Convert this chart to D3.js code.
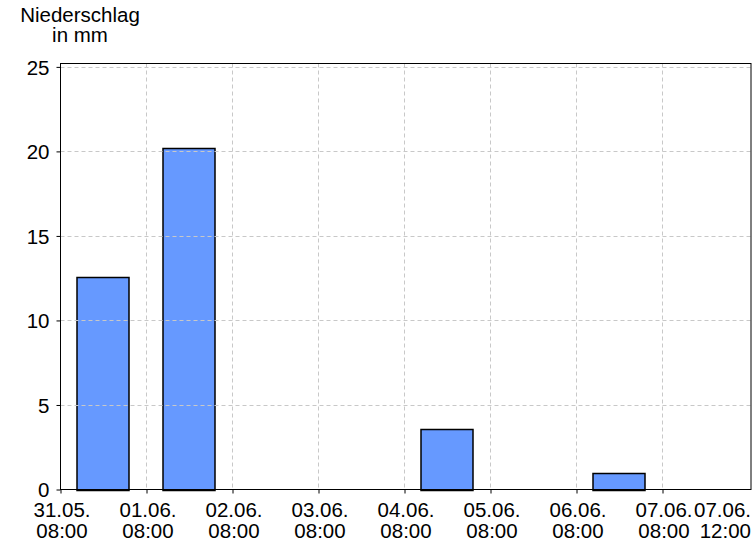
<!DOCTYPE html>
<html>
<head>
<meta charset="utf-8">
<script src="https://cdn.jsdelivr.net/npm/d3@7"></script>
<style>
  html, body { margin: 0; padding: 0; background: #fff; }
  svg { display: block; }
  text { font-family: "Liberation Sans", Arial, sans-serif; fill: #000; }
</style>
</head>
<body>
<svg id="chart" width="756" height="546"></svg>
<script>
// ---- data ----
const periodStarts = ["2024-05-31T08:00", "2024-06-01T08:00", "2024-06-02T08:00", "2024-06-03T08:00",
                      "2024-06-04T08:00", "2024-06-05T08:00", "2024-06-06T08:00"];
const precipitation = [12.6, 20.2, 0, 0, 3.6, 0, 1.0];
const tickTimes = ["2024-05-31T08:00", "2024-06-01T08:00", "2024-06-02T08:00", "2024-06-03T08:00",
                   "2024-06-04T08:00", "2024-06-05T08:00", "2024-06-06T08:00", "2024-06-07T08:00"];
const tickLabels = [["31.05.", "08:00"], ["01.06.", "08:00"], ["02.06.", "08:00"], ["03.06.", "08:00"],
                    ["04.06.", "08:00"], ["05.06.", "08:00"], ["06.06.", "08:00"], ["07.06.", "08:00"]];
const endLabel = ["07.06.", "12:00"];
const yTicks = [0, 5, 10, 15, 20, 25];
const yTitle = ["Niederschlag", "in mm"];

// ---- layout ----
const mLeft = 60.5, mRight = 751, mTop = 63.5, mBottom = 489.5;
const fontPx = "20.5px";
const parse = d3.timeParse("%Y-%m-%dT%H:%M");
const t0 = parse("2024-05-31T08:00");
const dayMs = 24 * 3600 * 1000;
const t1 = new Date(t0.getTime() + dayMs * (mRight - mLeft) / 86);

const x = d3.scaleTime().domain([t0, t1]).range([mLeft, mRight]);
const y = d3.scaleLinear().domain([0, 25.2]).range([mBottom, mTop]);

const svg = d3.select("#chart");

// bars
const bars = svg.append("g");
periodStarts.forEach((s, i) => {
  const v = precipitation[i];
  if (!v) return;
  const a = parse(s).getTime();
  const x0 = x(new Date(a + 0.2 * dayMs)), x1 = x(new Date(a + 0.8 * dayMs));
  bars.append("rect")
    .attr("x", Math.floor(x0))
    .attr("y", Math.round(y(v)) + 0.5)
    .attr("width", Math.round(x1 - x0))
    .attr("height", Math.round(mBottom) - Math.round(y(v)))
    .attr("fill", "#6699ff")
    .attr("stroke", "#000")
    .attr("stroke-width", 1.5);
});

// grid (drawn over bars)
const grid = svg.append("g").attr("stroke", "#c8c8c8").attr("stroke-dasharray", "4,3").attr("stroke-width", 1);
yTicks.filter(d => d > 0).forEach(d => {
  const yy = Math.round(y(d)) + 0.5;
  grid.append("line").attr("x1", mLeft).attr("x2", mRight).attr("y1", yy).attr("y2", yy);
});
tickTimes.slice(1).forEach(t => {
  const xx = Math.floor(x(parse(t))) + 0.5;
  grid.append("line").attr("x1", xx).attr("x2", xx).attr("y1", mTop).attr("y2", mBottom);
});

// frame
svg.append("rect").attr("x", mLeft).attr("y", mTop).attr("width", mRight - mLeft).attr("height", mBottom - mTop)
  .attr("fill", "none").attr("stroke", "#000").attr("stroke-width", 1);

// y axis
const yAxis = d3.axisLeft(y).tickValues(yTicks).tickSize(4).tickPadding(7).tickFormat(d3.format("d"));
const gy = svg.append("g").attr("transform", `translate(${mLeft},0)`).call(yAxis);
gy.select(".domain").remove();
gy.attr("font-family", null).attr("font-size", null);
gy.selectAll("text").style("font-size", fontPx).attr("dy", "0.35em");

// x axis
const xAxis = d3.axisBottom(x).tickValues(tickTimes.map(parse)).tickSize(4).tickFormat("");
const gx = svg.append("g").attr("transform", `translate(0,${mBottom})`).call(xAxis);
gx.select(".domain").remove();
gx.attr("font-family", null).attr("font-size", null);
gx.selectAll(".tick").each(function(d, i) {
  const t = d3.select(this).append("text").attr("fill", "#000").attr("text-anchor", "middle")
    .style("font-size", fontPx);
  t.append("tspan").attr("x", 1).attr("y", 27).text(tickLabels[i][0]);
  t.append("tspan").attr("x", 1).attr("y", 48).text(tickLabels[i][1]);
});
const et = svg.append("text").attr("text-anchor", "end").style("font-size", fontPx);
et.append("tspan").attr("x", 751).attr("y", mBottom + 27).text(endLabel[0]);
et.append("tspan").attr("x", 751).attr("y", mBottom + 48).text(endLabel[1]);

// y title
const tt = svg.append("text").attr("text-anchor", "middle").style("font-size", fontPx);
tt.append("tspan").attr("x", 80).attr("y", 22).text(yTitle[0]);
tt.append("tspan").attr("x", 80).attr("y", 42).text(yTitle[1]);
</script>
</body>
</html>
